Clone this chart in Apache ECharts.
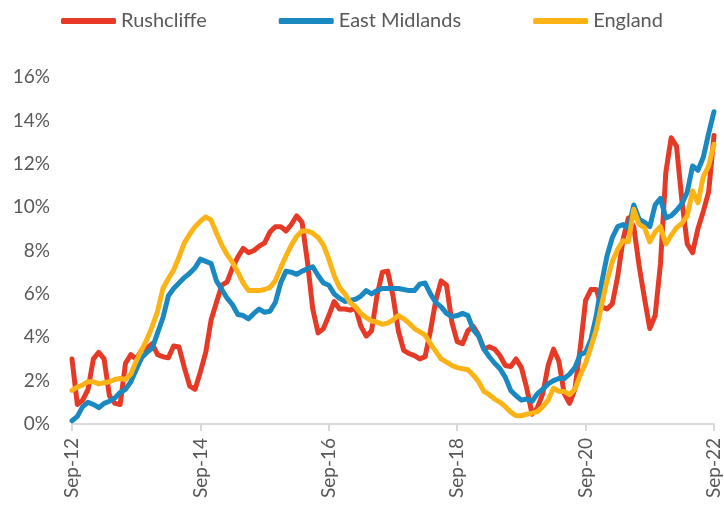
<!DOCTYPE html>
<html>
<head>
<meta charset="utf-8">
<script src="https://cdn.jsdelivr.net/npm/echarts@6/dist/echarts.min.js"></script>
<style>
html,body{margin:0;padding:0;background:#fff;}
#chart{width:724px;height:508px;}
</style>
</head>
<body>
<div id="chart"></div>
<script>
// Monthly, Sep-2012 .. Sep-2022
var monthNames = ['Jan','Feb','Mar','Apr','May','Jun','Jul','Aug','Sep','Oct','Nov','Dec'];
var categories = [];
for (var k = 0; k < 121; k++) {
  var m = (8 + k) % 12;
  var y = 12 + Math.floor((8 + k) / 12);
  categories.push(monthNames[m] + '-' + (y < 10 ? '0' + y : '' + y));
}

var seriesNames = ['Rushcliffe', 'East Midlands', 'England'];

var rushcliffe = [
  3.0, 0.9, 1.1, 1.6, 3.0, 3.3, 3.0, 1.3, 0.95, 0.9, 2.8, 3.2,
  3.0, 3.4, 3.5, 3.7, 3.2, 3.1, 3.05, 3.6, 3.55, 2.6, 1.75, 1.6,
  2.4, 3.3, 4.8, 5.6, 6.4, 6.55, 7.2, 7.7, 8.1, 7.9, 8.0, 8.2,
  8.35, 8.85, 9.1, 9.1, 8.9, 9.2, 9.6, 9.3, 7.5, 5.3, 4.2, 4.4,
  5.0, 5.65, 5.3, 5.3, 5.25, 5.35, 4.5, 4.05, 4.3, 5.9, 7.0, 7.05,
  5.9, 4.3, 3.4, 3.25, 3.15, 3.0, 3.1, 4.3, 5.7, 6.6, 6.4, 4.7,
  3.8, 3.7, 4.3, 4.5, 4.1, 3.45, 3.56, 3.45, 3.15, 2.7, 2.65, 3.0,
  2.6, 1.65, 0.45, 0.75, 1.4, 2.7, 3.45, 2.9, 1.4, 0.95, 1.6, 3.5,
  5.7, 6.2, 6.2, 5.4, 5.3, 5.55, 6.8, 8.5, 9.5, 9.1, 7.3, 5.8,
  4.4, 5.0, 7.4, 11.6, 13.2, 12.8, 10.3, 8.3, 7.9, 9.0, 9.8, 10.7,
  13.3
];

var eastMidlands = [
  0.15, 0.35, 0.8, 1.0, 0.9, 0.75, 0.95, 1.05, 1.2, 1.45, 1.6, 1.95,
  2.5, 3.05, 3.3, 3.5, 4.2, 4.9, 5.9, 6.25, 6.5, 6.75, 6.95, 7.2,
  7.6, 7.5, 7.4, 6.6, 6.2, 5.8, 5.5, 5.05, 5.0, 4.85, 5.1, 5.3,
  5.15, 5.2, 5.6, 6.5, 7.05, 7.0, 6.9, 7.05, 7.15, 7.25, 6.85, 6.5,
  6.4, 6.0, 5.8, 5.65, 5.7, 5.75, 5.9, 6.15, 6.0, 6.15, 6.25, 6.25,
  6.25, 6.25, 6.2, 6.15, 6.15, 6.45, 6.5, 6.0, 5.6, 5.4, 5.1, 4.95,
  5.0, 5.1, 5.0, 4.35, 4.05, 3.45, 3.1, 2.8, 2.55, 2.15, 1.55, 1.3,
  1.1, 1.15, 1.05, 1.4, 1.6, 1.85, 2.0, 2.1, 2.1, 2.3, 2.6, 3.2,
  3.3, 3.9, 5.0, 6.5, 7.75, 8.6, 9.1, 9.2, 9.0, 10.1, 9.45, 9.3,
  9.1, 10.1, 10.4, 9.5, 9.6, 9.85, 10.15, 10.7, 11.9, 11.7, 12.3, 13.4,
  14.4
];

var england = [
  1.55, 1.7, 1.8, 1.95, 1.95, 1.85, 1.9, 1.95, 2.05, 2.1, 2.05, 2.3,
  2.9, 3.4, 3.9, 4.5, 5.2, 6.25, 6.7, 7.1, 7.7, 8.35, 8.75, 9.1,
  9.35, 9.55, 9.4, 8.8, 8.25, 7.8, 7.45, 7.0, 6.5, 6.15, 6.15, 6.15,
  6.2, 6.3, 6.6, 7.2, 7.75, 8.25, 8.65, 8.9, 8.9, 8.8, 8.6, 8.25,
  7.6, 6.85, 6.3, 6.0, 5.6, 5.4, 5.1, 4.9, 4.75, 4.7, 4.6, 4.65,
  4.8, 5.0, 4.85, 4.65, 4.4, 4.25, 4.1, 3.7, 3.35, 3.0, 2.85, 2.7,
  2.6, 2.55, 2.5, 2.25, 1.95, 1.5, 1.35, 1.15, 1.0, 0.8, 0.55, 0.38,
  0.38, 0.45, 0.5, 0.57, 0.8, 1.1, 1.65, 1.5, 1.5, 1.35, 1.6, 2.25,
  2.8, 3.55, 4.35, 5.5, 6.6, 7.5, 8.05, 8.45, 8.4, 9.9, 9.2, 9.05,
  8.4, 8.85, 9.1, 8.3, 8.7, 9.05, 9.25, 9.6, 10.75, 10.2, 11.4, 11.9,
  12.9
];

var yTicks = [0, 2, 4, 6, 8, 10, 12, 14, 16];
var colors = ['#E63A27', '#1A88C1', '#FCB316'];

var FONT = 'Lato';
var TEXT = '#595959';

var chart = echarts.init(document.getElementById('chart'), null, {renderer: 'canvas'});
var values = [rushcliffe, eastMidlands, england];

chart.setOption({
  animation: false,
  backgroundColor: '#ffffff',
  color: colors,
  legend: {
    top: 6,
    left: 'center',
    icon: 'roundRect',
    itemWidth: 55,
    itemHeight: 6,
    itemGap: 72,
    textStyle: {fontFamily: FONT, fontSize: 20, color: TEXT},
    data: seriesNames
  },
  grid: {left: 72, right: 10, top: 77, bottom: 84, containLabel: false},
  xAxis: {
    type: 'category',
    boundaryGap: false,
    data: categories,
    axisLine: {lineStyle: {color: '#d9d9d9', width: 2}},
    axisTick: {show: true, interval: 23, length: 7, lineStyle: {color: '#d9d9d9', width: 2}},
    axisLabel: {
      interval: 23, rotate: 90, margin: 14,
      fontFamily: FONT, fontSize: 19, color: TEXT
    },
    splitLine: {show: false}
  },
  yAxis: {
    type: 'value',
    min: yTicks[0],
    max: yTicks[yTicks.length - 1],
    interval: 2,
    axisLine: {show: false},
    axisTick: {show: false},
    splitLine: {show: false},
    axisLabel: {
      margin: 22,
      fontFamily: FONT, fontSize: 19, color: TEXT,
      formatter: function (v) { return v + '%'; }
    }
  },
  series: seriesNames.map(function (name, idx) {
    return {
      name: name,
      type: 'line',
      data: values[idx],
      showSymbol: false,
      symbol: 'none',
      smooth: false,
      lineStyle: {width: 5, color: colors[idx], cap: 'round', join: 'round'},
      itemStyle: {color: colors[idx]},
      z: idx === 0 ? 2 : (idx === 1 ? 3 : 4)
    };
  })
});
</script>
</body>
</html>
